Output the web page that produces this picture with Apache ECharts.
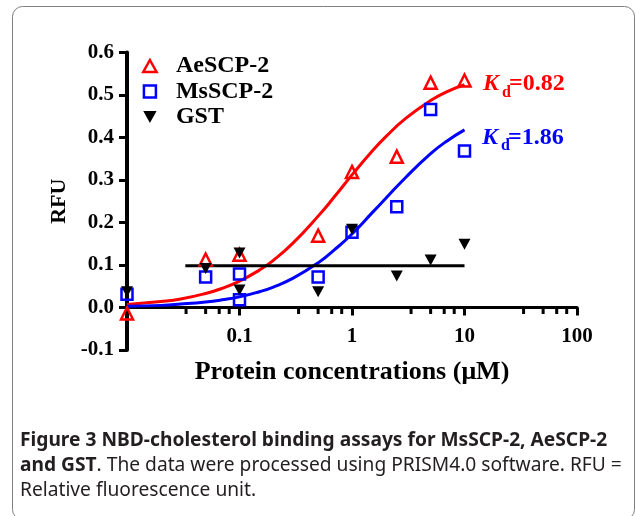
<!DOCTYPE html>
<html><head><meta charset="utf-8">
<script src="https://cdn.jsdelivr.net/npm/echarts@6/dist/echarts.min.js"></script>
<style>html,body{margin:0;padding:0;background:#fff}#c{width:636px;height:516px}</style>
</head><body><div id="c"></div>
<script>
// ---- data ----
const xMin = 0.01, xMax = 100;
const xTickLabels = ['0.1', '1', '10', '100'];
const aeConc = [0, 0.05, 0.1, 0.5, 1, 2.5, 5, 10];
const aeRFU  = [-0.014, 0.113, 0.124, 0.169, 0.319, 0.355, 0.529, 0.534];
const msConc = [0, 0.05, 0.1, 0.1, 0.5, 1, 2.5, 5, 10];
const msRFU  = [0.031, 0.072, 0.079, 0.018, 0.072, 0.177, 0.237, 0.466, 0.368];
const gstConc = [0, 0.05, 0.1, 0.1, 0.5, 1, 2.5, 5, 10];
const gstRFU  = [0.037, 0.092, 0.128, 0.041, 0.037, 0.184, 0.074, 0.112, 0.149];
const fitConc = [0.01, 0.02, 0.03, 0.05, 0.07, 0.1, 0.15, 0.2, 0.3, 0.5, 0.7, 1, 1.5, 2, 3, 5, 7, 10];
const aeFit  = [0.007, 0.014, 0.020, 0.033, 0.045, 0.062, 0.088, 0.111, 0.152, 0.215, 0.261, 0.312, 0.367, 0.402, 0.445, 0.487, 0.508, 0.524];
const msFit  = [0.003, 0.005, 0.008, 0.013, 0.018, 0.025, 0.037, 0.048, 0.069, 0.105, 0.136, 0.173, 0.222, 0.257, 0.306, 0.362, 0.392, 0.418];
const gstFitConc = [0.033, 10];
const gstFit = [0.098, 0.098];
const minorMult = [3.35, 5, 6.6, 8.1];
const decades = [0.01, 0.1, 1, 10];

const serif = 'Liberation Serif';
const pos = c => (c === 0 ? xMin : c);
const pairs = (xs, ys) => xs.map((x, i) => [pos(x), ys[i]]);
const minorTicks = [];
decades.forEach(d => minorMult.forEach(m => minorTicks.push([d * m, 0])));

const chart = echarts.init(document.getElementById('c'), null, {renderer: 'canvas'});
const open = c => ({color: 'rgba(255,255,255,0)', borderColor: c, borderWidth: 2.5, opacity: 1});

chart.setOption({
  backgroundColor: '#fff',
  animation: false,
  grid: {left: 127, top: 52.5, width: 450, height: 297.5},
  xAxis: {
    type: 'log', min: xMin, max: xMax, logBase: 10,
    axisLine: {onZero: true, lineStyle: {color: '#000', width: 3}},
    axisTick: {length: 8, lineStyle: {color: '#000', width: 3}},
    splitLine: {show: false},
    axisLabel: {
      margin: -24, color: '#000', fontFamily: serif, fontWeight: 'bold', fontSize: 21,
      formatter: v => { const i = Math.round(Math.log10(v)) + 1; return i >= 0 ? xTickLabels[i] : ''; }
    },
    name: 'Protein concentrations (\u03bcM)', nameLocation: 'middle', nameGap: 9,
    nameTextStyle: {color: '#000', fontFamily: serif, fontWeight: 'bold', fontSize: 26}
  },
  yAxis: {
    type: 'value', min: -0.1, max: 0.6, interval: 0.1,
    axisLine: {show: true, onZero: false, lineStyle: {color: '#000', width: 4}},
    axisTick: {show: true, length: 8, lineStyle: {color: '#000', width: 3}},
    splitLine: {show: false},
    axisLabel: {margin: 13, color: '#000', fontFamily: serif, fontWeight: 'bold', fontSize: 21,
      formatter: v => v.toFixed(1)},
    name: 'RFU', nameLocation: 'middle', nameRotate: 90, nameGap: 56,
    nameTextStyle: {color: '#000', fontFamily: serif, fontWeight: 'bold', fontSize: 22}
  },
  legend: {
    orient: 'vertical', left: 137, top: 49, itemWidth: 42, itemHeight: 12, itemGap: 1.5,
    symbolKeepAspect: true, selectedMode: false,
    textStyle: {color: '#000', fontFamily: serif, fontWeight: 'bold', fontSize: 24, lineHeight: 24},
    data: [
      {name: 'AeSCP-2', icon: 'path://M5,0L10,9L0,9Z', itemStyle: open('#ff0000')},
      {name: 'MsSCP-2', icon: 'path://M0,0L10,0L10,10L0,10Z', itemStyle: open('#0000ff')},
      {name: 'GST', icon: 'path://M0,0L10,0L5,9Z', itemStyle: {color: '#000', borderWidth: 0, opacity: 1}}
    ]
  },
  series: [
    {type: 'scatter', name: 'ticks', data: minorTicks, symbol: 'rect', symbolSize: [3, 5],
      symbolOffset: [0, 4], itemStyle: {color: '#000', opacity: 1}, silent: true, z: 1},
    {type: 'line', name: 'AeSCP-2 fit', data: pairs(fitConc, aeFit), smooth: true, showSymbol: false,
      lineStyle: {color: '#ff0000', width: 3}, z: 2},
    {type: 'line', name: 'MsSCP-2 fit', data: pairs(fitConc, msFit), smooth: true, showSymbol: false,
      lineStyle: {color: '#0000ff', width: 3}, z: 2},
    {type: 'line', name: 'GST fit', data: pairs(gstFitConc, gstFit), showSymbol: false,
      lineStyle: {color: '#000', width: 3}, z: 2},
    {type: 'scatter', name: 'AeSCP-2', data: pairs(aeConc, aeRFU), symbol: 'triangle', symbolSize: 12,
      itemStyle: open('#ff0000'), z: 3},
    {type: 'scatter', name: 'MsSCP-2', data: pairs(msConc, msRFU), symbol: 'rect', symbolSize: 11,
      itemStyle: open('#0000ff'), z: 4},
    {type: 'scatter', name: 'GST', data: pairs(gstConc, gstRFU), symbol: 'triangle', symbolRotate: 180,
      symbolSize: [12, 11], itemStyle: {color: '#000', opacity: 1}, z: 5}
  ],
  graphic: [
    {type: 'rect', shape: {x: 12.5, y: 6.5, width: 622, height: 513, r: 10},
      style: {fill: 'none', stroke: '#808080', lineWidth: 1}, silent: true, z: -1},
    {type: 'text', x: 483, y: 84, style: {text: 'K', fill: '#ff0000', font: 'italic bold 24px "Liberation Serif"', verticalAlign: 'middle'}},
    {type: 'text', x: 502, y: 93, style: {text: 'd', fill: '#ff0000', font: 'bold 16px "Liberation Serif"', verticalAlign: 'middle'}},
    {type: 'text', x: 509, y: 84, style: {text: '=0.82', fill: '#ff0000', font: 'bold 24px "Liberation Serif"', verticalAlign: 'middle'}},
    {type: 'text', x: 482, y: 138, style: {text: 'K', fill: '#0000ff', font: 'italic bold 24px "Liberation Serif"', verticalAlign: 'middle'}},
    {type: 'text', x: 501, y: 146, style: {text: 'd', fill: '#0000ff', font: 'bold 16px "Liberation Serif"', verticalAlign: 'middle'}},
    {type: 'text', x: 508, y: 138, style: {text: '=1.86', fill: '#0000ff', font: 'bold 24px "Liberation Serif"', verticalAlign: 'middle'}},
    {type: 'text', x: 20, y: 428, style: {
      text: '{b|Figure 3 NBD-cholesterol binding assays for MsSCP-2, AeSCP-2}\n{b|and GST}{r|. The data were processed using PRISM4.0 software. RFU =}\n{r|Relative fluorescence unit.}',
      fill: '#231f20',
      rich: {
        b: {fontFamily: 'Noto Sans', fontWeight: 'bold', fontSize: 19.2, lineHeight: 25, fill: '#231f20'},
        r: {fontFamily: 'Noto Sans', fontWeight: 'normal', fontSize: 19.2, lineHeight: 25, fill: '#231f20'}
      }}}
  ]
});
</script></body></html>
